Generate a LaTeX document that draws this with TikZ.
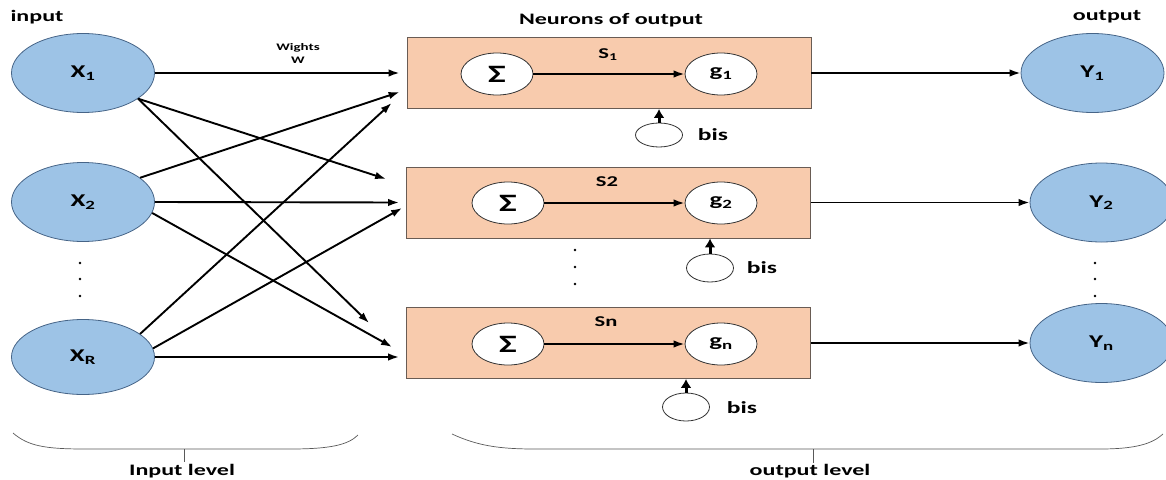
\documentclass[tikz,border=0pt]{standalone}
\usepackage{fontspec}
\setmainfont[FakeStretch=1.5]{Carlito}
\usetikzlibrary{arrows.meta,calc,shapes.geometric}
\definecolor{nodeblue}{RGB}{157,195,230}
\definecolor{nodeedge}{RGB}{70,100,135}
\definecolor{peach}{RGB}{248,203,173}
\definecolor{boxedge}{RGB}{105,92,84}
\newcommand{\sigmtext}{{\fontsize{25}{26}\selectfont\bfseries Σ}}
\begin{document}
\begin{tikzpicture}[x=1pt,y=-1pt,
  inp/.style={ellipse, draw=nodeedge, line width=0.8pt, fill=nodeblue, minimum width=143pt, minimum height=79pt, inner sep=0pt, font=\fontsize{18}{20}\selectfont\bfseries},
  neuron/.style={rectangle, draw=boxedge, line width=0.8pt, fill=peach, minimum width=404pt, minimum height=71pt, inner sep=0pt},
  opc/.style={ellipse, draw=black!80, line width=0.8pt, fill=white, minimum width=72pt, minimum height=42pt, inner sep=0pt, font=\fontsize{18}{20}\selectfont\bfseries},
  biasc/.style={ellipse, draw=black!80, line width=0.8pt, fill=white, minimum width=47pt, minimum height=26pt, inner sep=0pt},
  wire/.style={line width=1.9pt, -{Latex[length=11pt,width=7.5pt]}},
  biasarrow/.style={line width=3pt, -{Latex[length=9pt,width=11pt]}},
  lbl/.style={font=\fontsize{16}{18}\selectfont\bfseries, inner sep=0pt},
  slbl/.style={font=\fontsize{15}{17}\selectfont\bfseries, inner sep=0pt},
  bislbl/.style={font=\fontsize{17}{19}\selectfont\bfseries, inner sep=0pt},
  brace/.style={draw=black!65, line width=0.7pt},
  dotm/.style={fill=black}
]
\useasboundingbox (0,0) rectangle (1166,479);

% titles
\node[lbl] (tin) at (37,17) {input};
\node[lbl] (tneu) at (611,20) {Neurons of output};
\node[lbl] (tout) at (1107,17) {output};
\node[font=\fontsize{10}{13}\selectfont\bfseries, align=center, inner sep=0pt] (tw) at (298,53) {Wights\\W};

% input nodes
\node[inp] (x1) at (83,73) {X\textsubscript{1}};
\node[inp] (x2) at (83,202) {X\textsubscript{2}};
\node[inp, minimum height=75pt] (xr) at (83,357) {X\textsubscript{R}};

% neuron boxes
\node[neuron] (b1) at (609,73) {};
\node[neuron] (b2) at (608.5,202.5) {};
\node[neuron] (b3) at (608.5,343) {};

% inner operators
\node[opc] (s1) at (497,74) {\sigmtext};
\node[opc] (g1) at (721,74) {g\textsubscript{1}};
\node[opc] (s2) at (508,203) {\sigmtext};
\node[opc] (g2) at (721,203) {g\textsubscript{2}};
\node[opc] (s3) at (508,344) {\sigmtext};
\node[opc] (g3) at (721,344) {g\textsubscript{n}};

\node[slbl] (l1) at (608,55) {S\textsubscript{1}};
\node[slbl] (l2) at (607,182) {S2};
\node[slbl] (l3) at (606,322) {Sn};

\draw[wire] (s1) -- (g1);
\draw[wire] (s2) -- (g2);
\draw[wire] (s3) -- (g3);

% bias
\node[biasc, minimum height=24pt] (bc1) at (659,135) {};
\node[biasc, minimum height=28pt] (bc2) at (710,268) {};
\node[biasc, minimum height=28pt] (bc3) at (686,407) {};
\node[bislbl] (bl1) at (713,135) {bis};
\node[bislbl] (bl2) at (762,268) {bis};
\node[bislbl] (bl3) at (742,408) {bis};
\draw[biasarrow] (bc1.north) -- (bc1.north |- b1.south);
\draw[biasarrow] (bc2.north) -- (bc2.north |- b2.south);
\draw[biasarrow] (bc3.north) -- (bc3.north |- b3.south);

% output nodes
\node[inp] (y1) at (1092.5,73) {Y\textsubscript{1}};
\node[inp] (y2) at (1101.5,202.5) {Y\textsubscript{2}};
\node[inp] (y3) at (1101.5,343) {Y\textsubscript{n}};

\draw[wire] (b1.east) -- (y1.west);
\draw[wire] (b2.east) -- (y2.west);
\draw[wire] (b3.east) -- (y3.west);

% input connections
\draw[wire] (x1.east) -- ($(b1.west)+(-7,0)$);
\draw[wire] (x1.-25) -- ($(b2.west)+(-20,-23.5)$);
\draw[wire] (x1.-25) -- ($(b3.west)+(-37,-20)$);
\draw[wire] (x2.23) -- ($(b1.west)+(-7,19)$);
\draw[wire] (x2.east) -- ($(b2.west)+(-7,0)$);
\draw[wire] (x2.-9) -- ($(b3.west)+(-14,4)$);
\draw[wire] (xr.22) -- ($(b1.west)+(-15,30)$);
\draw[wire] (xr.7) -- ($(b2.west)+(-4,5.5)$);
\draw[wire] (xr.east) -- ($(b3.west)+(-7,14)$);

% dots
\foreach \yy in {263,279,296} {\fill[dotm] (80,\yy) circle (1.3);}
\foreach \yy in {263,279,296} {\fill[dotm] (1095,\yy) circle (1.3);}
\foreach \yy in {250,267,284} {\fill[dotm] (575,\yy) circle (1.3);}

% braces
\draw[brace] (13,433) .. controls (28,446) and (45,449) .. (85,449) -- (290,449) .. controls (330,449) and (348,445) .. (358,435);
\draw[brace] (184,449) -- (184,462);
\node[lbl] (tinl) at (182,471) {Input level};
\draw[brace] (452,434) .. controls (478,446) and (500,449) .. (535,449) -- (1100,449) .. controls (1135,449) and (1152,444) .. (1163,434);
\draw[brace] (813,449) -- (813,463);
\node[lbl] (toutl) at (810,471) {output level};
\end{tikzpicture}
\end{document}
